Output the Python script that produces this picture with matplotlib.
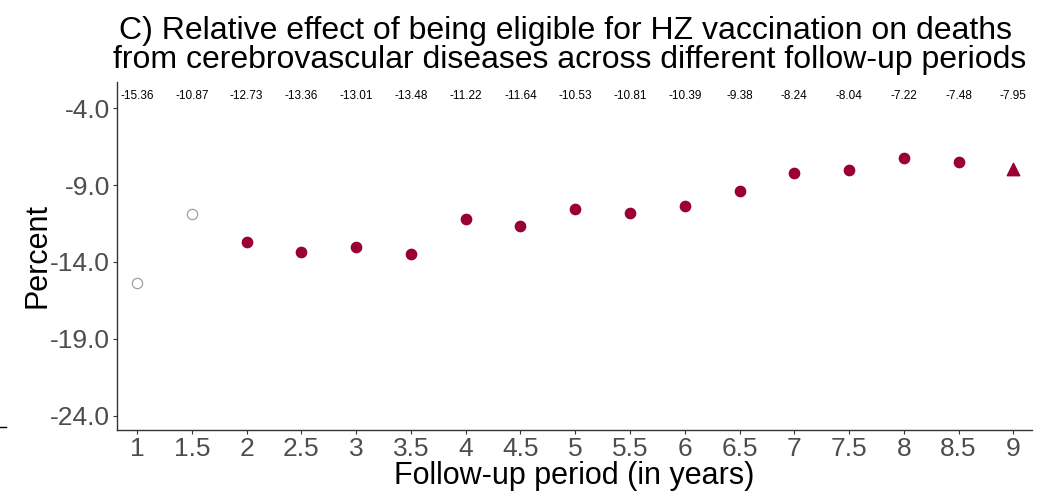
import matplotlib.pyplot as plt
from matplotlib.lines import Line2D
import numpy as np

plt.rcParams['font.family'] = ['Liberation Sans', 'DejaVu Sans']

# follow-up periods and estimated relative effect (%)
periods = [1, 1.5, 2, 2.5, 3, 3.5, 4, 4.5, 5, 5.5, 6, 6.5, 7, 7.5, 8, 8.5, 9]
effects = [-15.36, -10.87, -12.73, -13.36, -13.01, -13.48, -11.22, -11.64,
           -10.53, -10.81, -10.39, -9.38, -8.24, -8.04, -7.22, -7.48, -7.95]
# 0 = too short (hollow), 1 = regular, 2 = main estimate (triangle)
kind = [0, 0, 1, 1, 1, 1, 1, 1, 1, 1, 1, 1, 1, 1, 1, 1, 2]
yticks = [-4.0, -9.0, -14.0, -19.0, -24.0]

RED = "#9a0036"
GREY_TXT = "#4d4d4d"

fig = plt.figure(figsize=(10.46, 4.96), dpi=100)
ax = fig.add_axes([0.1119, 0.1331, 0.8747, 0.7016])

x = np.array(periods)
y = np.array(effects)
k = np.array(kind)

ax.scatter(x[k == 0], y[k == 0], s=55, facecolors="white",
           edgecolors="#a0a0a0", linewidths=0.9, zorder=3)
ax.scatter(x[k == 1], y[k == 1], s=55, color=RED, zorder=3)
ax.scatter(x[k == 2], y[k == 2], s=80, marker="^", color=RED, zorder=3)

for xi, yi in zip(periods, effects):
    ax.text(xi, -3.22, f"{yi:.2f}", ha="center", va="center", fontsize=8.5)

ax.set_xlim(0.817, 9.17)
ax.set_ylim(-24.91, -2.31)
ax.set_xticks(periods)
ax.set_xticklabels([f"{p:g}" for p in periods])
ax.set_yticks(yticks)
ax.set_yticklabels([f"{t:.1f}" for t in yticks])

for side in ["top", "right"]:
    ax.spines[side].set_visible(False)
for side in ["left", "bottom"]:
    ax.spines[side].set_color("#333333")
    ax.spines[side].set_linewidth(1.0)

ax.tick_params(axis="both", colors="#333333", length=3, width=0.8,
               labelsize=19, labelcolor=GREY_TXT, pad=2)

ax.set_xlabel("Follow-up period (in years)", fontsize=22, labelpad=0)
ax.set_ylabel("Percent", fontsize=22, labelpad=-2)

ax.set_title("C) Relative effect of being eligible for HZ vaccination on deaths\n"
             " from cerebrovascular diseases across different follow-up periods",
             fontsize=23, linespacing=0.95, pad=10, x=0.49)

fig.add_artist(Line2D([0.0, 0.006], [0.139, 0.139], color="black", linewidth=1))

fig.savefig("out.png", dpi=100)
